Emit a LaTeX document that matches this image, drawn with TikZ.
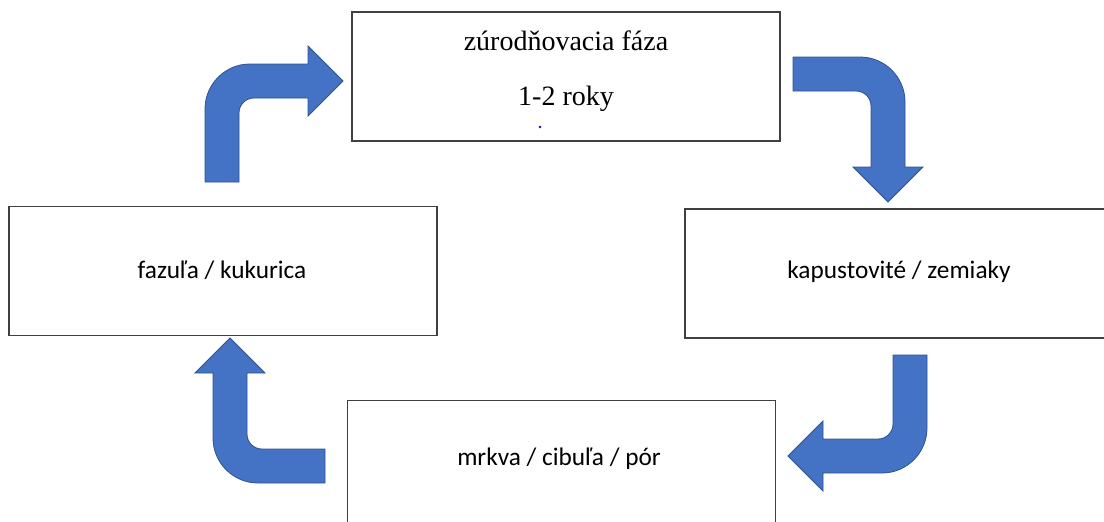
\documentclass[tikz,border=0pt]{standalone}
\usepackage{fontspec}
\setmainfont{Liberation Serif}
\newfontfamily\calibri{Carlito}
\usetikzlibrary{calc}

\definecolor{arrfill}{HTML}{4472C4}
\definecolor{arrline}{HTML}{2F528F}

% bent block arrow: start point, rotation, first leg, second leg
\newcommand{\bentarrow}[4]{%
  \begin{scope}[shift={#1}, rotate=#2]
    \filldraw[arrow]
      (0,0) -- (0,#3-45) arc[start angle=180, end angle=90, radius=45pt]
      -- (#4-35,#3) -- (#4-35,#3+18) -- (#4,#3-17) -- (#4-35,#3-52)
      -- (#4-35,#3-34) -- (49,#3-34) arc[start angle=90, end angle=180, radius=15pt]
      -- (34,0) -- cycle;
  \end{scope}}

\begin{document}
\begin{tikzpicture}[x=1pt, y=1pt,
    box/.style={draw=black!75, line width=1.2pt, minimum width=428pt, minimum height=129pt, inner sep=0pt},
    serif/.style={font=\fontsize{28}{34}\selectfont, anchor=base},
    sans/.style={font=\calibri\fontsize{25.3}{30}\selectfont, anchor=base},
    arrow/.style={fill=arrfill, draw=arrline, line width=0.8pt}]
  \useasboundingbox (0,0) rectangle (1104,-522);
  \clip (0,0) rectangle (1104,-522);

  \node[box] (faza) at (566,-76.5) {};
  \node[serif] (faza1) at (566,-50) {zúrodňovacia fáza};
  \node[serif] (faza2) at (566,-105) {1-2 roky};
  \fill[blue] (540,-127) circle (1.3);

  \node[box] (kap) at (899,-273.5) {};
  \node[sans] (kapt) at (899,-278) {kapustovité / zemiaky};

  \node[box] (mrk) at (561.5,-465) {};
  \node[sans] (mrkt) at (559,-465) {mrkva / cibuľa / pór};

  \node[box] (faz) at (223,-271) {};
  \node[sans] (fazt) at (222,-278) {fazuľa / kukurica};

  \coordinate (a1) at (205,-182);
  \coordinate (a2) at (793,-57);
  \coordinate (a3) at (927,-355);
  \coordinate (a4) at (325,-483);
  \bentarrow{(a1)}{0}{118}{138}
  \bentarrow{(a2)}{-90}{112}{145}
  \bentarrow{(a3)}{180}{118}{139}
  \bentarrow{(a4)}{90}{112}{145}
\end{tikzpicture}
\end{document}
